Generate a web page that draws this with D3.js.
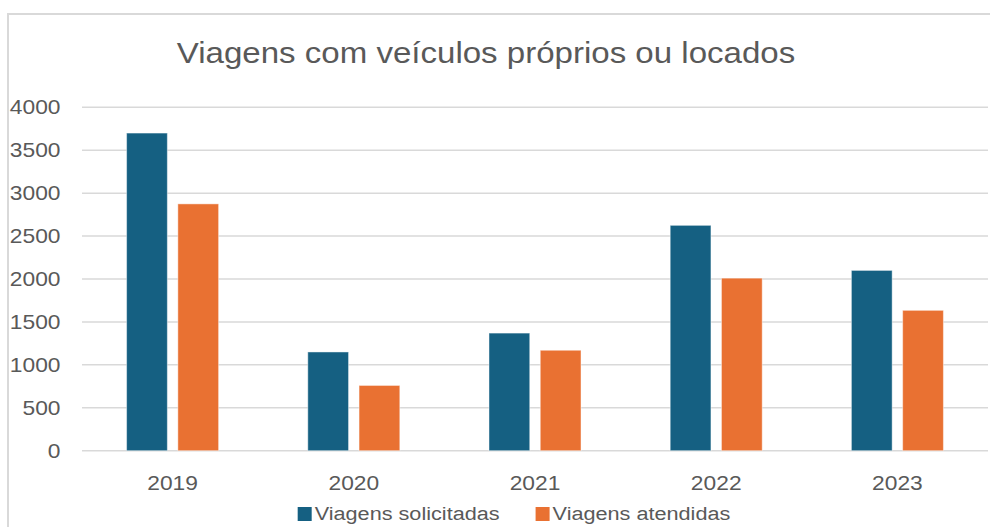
<!DOCTYPE html>
<html>
<head>
<meta charset="utf-8">
<script src="https://cdn.jsdelivr.net/npm/d3@7"></script>
<style>
  body { margin: 0; background: #fff; }
  text { font-family: "Liberation Sans", Arial, sans-serif; fill: #595959; }
</style>
</head>
<body>
<svg id="chart"></svg>
<script>
// Data
const years = ["2019", "2020", "2021", "2022", "2023"];
const seriesNames = ["Viagens solicitadas", "Viagens atendidas"];
const solicitadas = [3700, 1150, 1370, 2625, 2100];
const atendidas = [2875, 760, 1170, 2010, 1635];
const yTicks = [0, 500, 1000, 1500, 2000, 2500, 3000, 3500, 4000];
const colors = ["#156082", "#E97132"];

// Dimensions
const width = 990;
const height = 527;
const plot = { left: 82, right: 988, top: 107.3, bottom: 450.7 };
const stretch = 1.14; // text in the source is slightly wide

const svg = d3.select("#chart")
    .attr("width", width)
    .attr("height", height);

// Chart frame (only top and left edges are visible)
svg.append("path")
    .attr("d", `M8,${height} V14 H${width}`)
    .attr("fill", "none")
    .attr("stroke", "#d9d9d9")
    .attr("stroke-width", 2);

// Scales
const x0 = d3.scaleBand()
    .domain(years)
    .range([plot.left, plot.right]);

const x1 = d3.scaleBand()
    .domain(seriesNames)
    .range([0, x0.bandwidth()])
    .paddingInner(0.205)
    .paddingOuter(0.87);

const y = d3.scaleLinear()
    .domain([0, 4000])
    .range([plot.bottom, plot.top]);

// Gridlines
svg.append("g")
    .selectAll("line")
    .data(yTicks)
    .enter()
    .append("line")
    .attr("x1", plot.left)
    .attr("x2", plot.right)
    .attr("y1", d => y(d))
    .attr("y2", d => y(d))
    .attr("stroke", "#d9d9d9")
    .attr("stroke-width", 1.5);

// helper for horizontally stretched text
function placeText(sel, xf, yf) {
    return sel.attr("transform", (d, i) => `translate(${xf(d, i)},${yf(d, i)}) scale(${stretch},1)`);
}

// Y axis labels
placeText(
    svg.append("g")
        .selectAll("text")
        .data(yTicks)
        .enter()
        .append("text")
        .attr("text-anchor", "end")
        .attr("dy", "0.35em")
        .style("font-size", "20px")
        .text(d => d),
    () => 60.5,
    d => y(d)
);

// X axis labels
placeText(
    svg.append("g")
        .selectAll("text")
        .data(years)
        .enter()
        .append("text")
        .attr("text-anchor", "middle")
        .style("font-size", "20px")
        .text(d => d),
    d => x0(d) + x0.bandwidth() / 2,
    () => 490
);

// Bars
const table = years.map((yr, i) => ({
    year: yr,
    values: [
        { key: seriesNames[0], value: solicitadas[i], c: colors[0] },
        { key: seriesNames[1], value: atendidas[i], c: colors[1] }
    ]
}));

const groups = svg.append("g")
    .selectAll("g")
    .data(table)
    .enter()
    .append("g")
    .attr("transform", d => `translate(${x0(d.year)},0)`);

groups.selectAll("rect")
    .data(d => d.values)
    .enter()
    .append("rect")
    .attr("x", d => x1(d.key))
    .attr("width", x1.bandwidth())
    .attr("y", d => y(d.value))
    .attr("height", d => y(0) - y(d.value))
    .attr("fill", d => d.c)
    .attr("stroke", "#ffffff")
    .attr("stroke-opacity", 0.45)
    .attr("stroke-width", 1);

// Title
svg.append("text")
    .attr("text-anchor", "middle")
    .attr("transform", `translate(486,63) scale(${stretch},1)`)
    .style("font-size", "29px")
    .text("Viagens com veículos próprios ou locados");

// Legend
const legend = svg.append("g");
let lx = 0;
seriesNames.forEach((name, i) => {
    const item = legend.append("g").attr("transform", `translate(${lx},0)`);
    item.append("rect")
        .attr("x", 0)
        .attr("y", 507)
        .attr("width", 14)
        .attr("height", 14)
        .attr("fill", colors[i]);
    const t = item.append("text")
        .attr("transform", `translate(17,520) scale(${stretch},1)`)
        .style("font-size", "19px")
        .text(name);
    lx += 17 + t.node().getComputedTextLength() * stretch + 36;
});
const legendWidth = lx - 36;
legend.attr("transform", `translate(${514 - legendWidth / 2},0)`);
</script>
</body>
</html>
